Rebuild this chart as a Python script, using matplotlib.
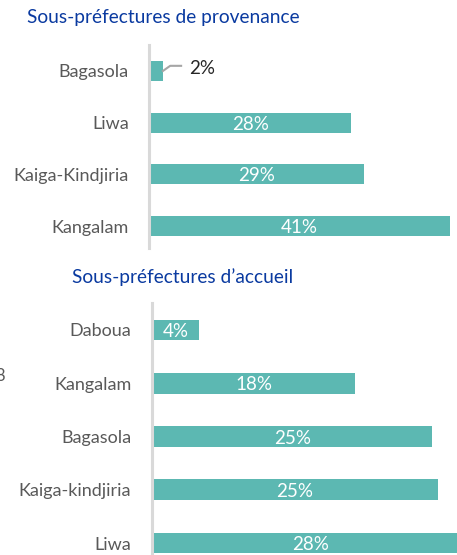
import matplotlib
matplotlib.use("Agg")
import matplotlib.pyplot as plt

# Data
top_title = "Sous-préfectures de provenance"
top_cats = ["Bagasola", "Liwa", "Kaiga-Kindjiria", "Kangalam"]
top_vals = [1.9, 27.7, 29.4, 41.2]
top_labels = ["2%", "28%", "29%", "41%"]

bot_title = "Sous-préfectures d\u2019accueil"
bot_cats = ["Daboua", "Kangalam", "Bagasola", "Kaiga-kindjiria", "Liwa"]
bot_vals = [4.2, 18.0, 24.8, 25.3, 28.0]
bot_labels = ["4%", "18%", "25%", "25%", "28%"]

W, H = 457, 555
DPI = 100
FONT = ["Lato", "DejaVu Sans"]
BAR = "#5cb8b2"
AXC = "#d9d9d9"
LABC = "#595959"
TITC = "#0a3aa0"

fig = plt.figure(figsize=(W / DPI, H / DPI), dpi=DPI)

def px_axes(left, top, right, bottom):
    return fig.add_axes([left / W, 1 - bottom / H, (right - left) / W, (bottom - top) / H])

def style(ax, cats, pad):
    for s in ["top", "right", "bottom"]:
        ax.spines[s].set_visible(False)
    ax.spines["left"].set_color(AXC)
    ax.spines["left"].set_linewidth(2.2)
    ax.set_xticks([])
    ax.set_yticks(range(len(cats)))
    ax.set_yticklabels(cats, fontfamily=FONT, fontsize=13, color=LABC)
    ax.tick_params(axis="y", length=0, pad=pad)
    ax.patch.set_alpha(0)

# Top chart
ax1 = px_axes(149, 45, 457, 248)
y1 = list(range(len(top_cats)))
ax1.barh(y1, top_vals, height=0.39, color=BAR, zorder=2)
ax1.set_xlim(0, 308 / 7.3)
ax1.set_ylim(3.425, -0.503)
style(ax1, top_cats, 14.5)
for i, (v, lab) in enumerate(zip(top_vals, top_labels)):
    if v < 5:
        ax1.plot([v, v + 1.0, v + 2.5], [i, i - 0.1, i - 0.1], color="#a6a6a6", lw=1.5,
                 clip_on=False, zorder=3)
        ax1.text(v + 3.6, i - 0.04, lab, ha="left", va="center", fontfamily=FONT,
                 fontsize=13.5, color="#262626")
    else:
        ax1.text(v / 2, i + 0.03, lab, ha="center", va="center", fontfamily=FONT,
                 fontsize=13.5, color="white")

# Bottom chart
ax2 = px_axes(152, 303, 457, 555)
y2 = list(range(len(bot_cats)))
ax2.barh(y2, bot_vals, height=0.39, color=BAR, zorder=2)
ax2.set_xlim(0, 305 / 11.3)
ax2.set_ylim(4.225, -0.507)
style(ax2, bot_cats, 15)
for i, (v, lab) in enumerate(zip(bot_vals, bot_labels)):
    xc = v / 2
    ax2.text(xc, i + 0.03, lab, ha="center", va="center", fontfamily=FONT,
             fontsize=13.5, color="white", clip_on=False)

# Titles
fig.text(27 / W, 1 - 18 / H, top_title, ha="left", va="center", fontfamily=FONT,
         fontsize=13.8, color=TITC)
fig.text(72 / W, 1 - 277 / H, bot_title, ha="left", va="center", fontfamily=FONT,
         fontsize=13.8, color=TITC)
# partial glyph at left edge (cut in the original)
fig.text(-5 / W, 1 - 376 / H, "8", ha="left", va="center", fontfamily=FONT,
         fontsize=12, color=LABC)

fig.savefig("out.png", dpi=DPI)
